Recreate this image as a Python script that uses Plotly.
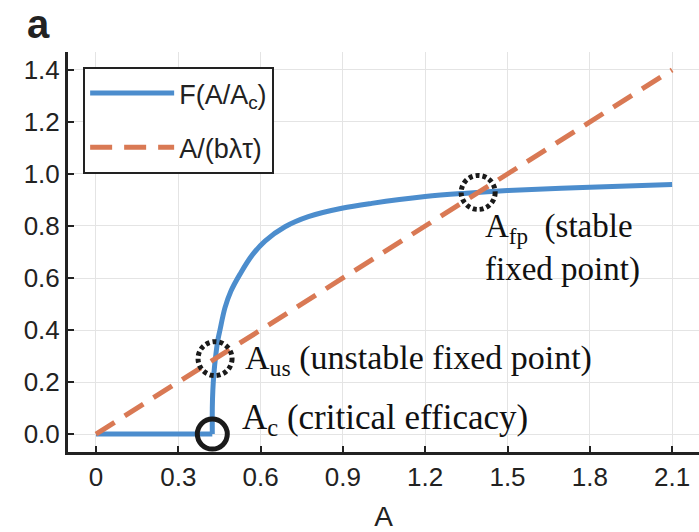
import plotly.graph_objects as go

# Data
A_flat = [0, 0.424]
F_flat = [0, 0]
A_curve = [0.424, 0.424, 0.426, 0.430, 0.436, 0.444, 0.452, 0.470, 0.492, 0.525,
           0.568, 0.616, 0.689, 0.774, 0.896, 1.005, 1.2, 1.35, 1.5, 1.8, 2.1]
F_curve = [0, 0.10, 0.17, 0.235, 0.297, 0.36, 0.40, 0.485, 0.550, 0.615,
           0.686, 0.742, 0.797, 0.836, 0.868, 0.887, 0.913, 0.926, 0.936, 0.949, 0.96]
A_line = [0, 2.1]
L_line = [0, 1.4]
A_c = 0.424
A_us = (0.434, 0.29)
A_fp = (1.393, 0.929)
x_ticks = [0, 0.3, 0.6, 0.9, 1.2, 1.5, 1.8, 2.1]
x_ticktext = ["0", "0.3", "0.6", "0.9", "1.2", "1.5", "1.8", "2.1"]
y_ticks = [0, 0.2, 0.4, 0.6, 0.8, 1.0, 1.2, 1.4]
y_ticktext = ["0.0", "0.2", "0.4", "0.6", "0.8", "1.0", "1.2", "1.4"]

BLUE = "rgb(76,141,205)"
ORANGE = "rgb(217,121,84)"
SANS = "Liberation Sans, Arial, sans-serif"
SERIF = "Liberation Serif, Times New Roman, serif"

fig = go.Figure()
fig.add_trace(go.Scatter(x=A_flat, y=F_flat, mode="lines", legendgroup="F", showlegend=False,
                         line=dict(color=BLUE, width=5)))
fig.add_trace(go.Scatter(x=A_curve, y=F_curve, mode="lines", name="F(A/A<sub>c</sub>)",
                         legendgroup="F",
                         line=dict(color=BLUE, width=5, shape="spline", smoothing=1.0)))
fig.add_trace(go.Scatter(x=A_line, y=L_line, mode="lines", name="A/(bλτ)", legendgroup="L",
                         line=dict(color=ORANGE, width=5, dash="22px,12px")))
fig.add_trace(go.Scatter(x=[A_c], y=[0], mode="markers", showlegend=False,
                         marker=dict(symbol="circle-open", size=30, color="#1a1a1a",
                                     line=dict(width=5, color="#1a1a1a"))))

for (cx, cy) in [A_us, A_fp]:
    fig.add_shape(type="circle", xref="x", yref="y", xsizemode="pixel", ysizemode="pixel",
                  xanchor=cx, yanchor=cy, x0=-17, x1=17, y0=-17, y1=17,
                  line=dict(color="#1a1a1a", width=5, dash="4px,3px"))

fig.add_annotation(x=0.535, y=0.285, xref="x", yref="y", xanchor="left", yanchor="middle",
                   text="A<sub>us</sub> (unstable fixed point)", showarrow=False,
                   font=dict(family=SERIF, size=34, color="#111"))
fig.add_annotation(x=0.525, y=0.055, xref="x", yref="y", xanchor="left", yanchor="middle",
                   text="A<sub>c</sub> (critical efficacy)", showarrow=False,
                   font=dict(family=SERIF, size=35, color="#111"))
fig.add_annotation(x=1.41, y=0.715, xref="x", yref="y", xanchor="left", yanchor="middle",
                   text="A<sub>fp</sub>  (stable<br>fixed point)", showarrow=False, align="left",
                   font=dict(family=SERIF, size=33, color="#111"))
fig.add_annotation(x=-0.068, y=1.0, xref="paper", yref="paper", xanchor="left", yanchor="bottom",
                   text="<b>a</b>", showarrow=False, yshift=4,
                   font=dict(family=SANS, size=40, color="#222"))

axis_common = dict(showline=True, linecolor="#222", linewidth=3, mirror=False,
                   ticks="inside", ticklen=6, tickwidth=2, tickcolor="#222",
                   showgrid=True, gridcolor="rgb(228,228,228)", gridwidth=1,
                   zeroline=False, tickfont=dict(family=SANS, size=26, color="#222"))

fig.update_xaxes(range=[-0.102, 2.198], tickvals=x_ticks, ticktext=x_ticktext,
                 title=dict(text="A", font=dict(family=SANS, size=28, color="#222"), standoff=16),
                 **axis_common)
fig.update_yaxes(range=[-0.069, 1.469], tickvals=y_ticks, ticktext=y_ticktext, **axis_common)

fig.update_layout(
    width=699, height=532,
    margin=dict(l=68, r=0, t=52, b=80),
    plot_bgcolor="white", paper_bgcolor="white",
    legend=dict(x=0.024, y=0.9625, xanchor="left", yanchor="top",
                bgcolor="white", bordercolor="#222", borderwidth=2,
                traceorder="grouped", tracegroupgap=16,
                font=dict(family=SANS, size=27, color="#222"), itemwidth=84),
)

fig.write_html("out.html")
